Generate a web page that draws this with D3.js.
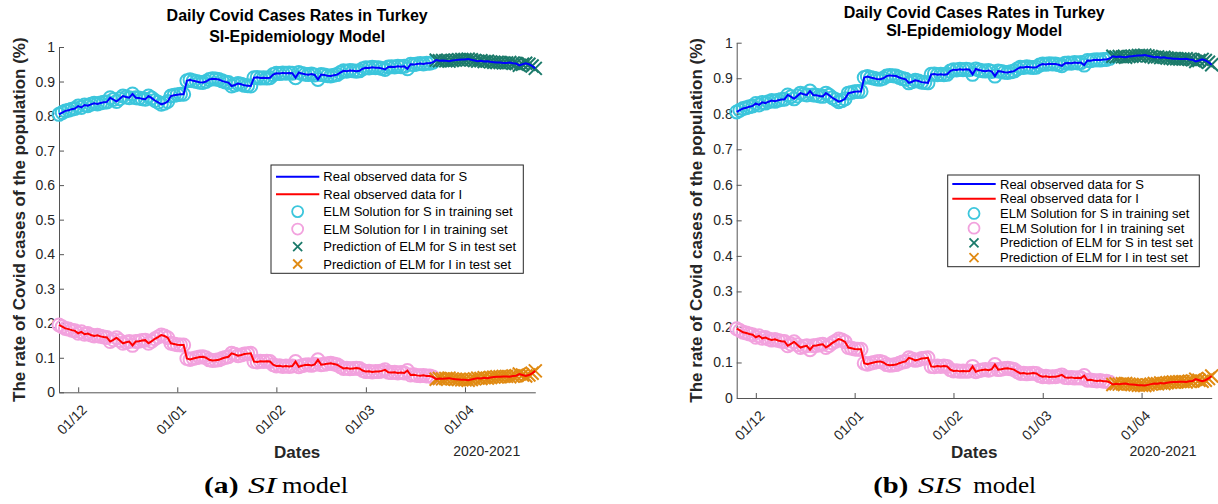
<!DOCTYPE html>
<html><head><meta charset="utf-8">
<script src="https://cdn.jsdelivr.net/npm/d3@7"></script>
<style>body{margin:0;background:#fff} svg{display:block} .sans{font-family:"Liberation Sans", Arial, Helvetica, sans-serif}</style>
</head><body>
<svg id="chart" width="1218" height="504"></svg>
<script>
// ---------------- DATA ----------------
const startDate = "2020-11-25";          // first observation (daily data)
const trainCount = 118;                  // points in the training set; the rest is the test set
const infected = [
  .195,.190,.185,.183,.180,.178,.171,.175,.168,.170,
  .166,.163,.165,.162,.160,.159,.147,.152,.158,.150,
  .142,.145,.147,.136,.147,.148,.150,.151,.142,.148,
  .155,.160,.166,.163,.158,.142,.140,.138,.137,.137,
  .098,.095,.098,.100,.102,.103,.100,.094,.092,.093,
  .094,.098,.101,.103,.113,.110,.106,.108,.111,.112,
  .113,.089,.088,.090,.089,.090,.089,.080,.076,.077,
  .075,.076,.075,.076,.089,.074,.077,.079,.080,.078,
  .081,.094,.080,.081,.083,.084,.082,.080,.074,.069,
  .070,.068,.069,.070,.069,.063,.060,.061,.059,.060,
  .060,.062,.065,.058,.057,.058,.056,.057,.056,.063,
  .050,.051,.049,.048,.049,.047,.047,.044,.038,.040,
  .039,.040,.041,.039,.038,.037,.036,.036,.035,.037,
  .039,.041,.040,.042,.041,.043,.044,.045,.045,.046,
  .046,.045,.047,.048,.053,.050,.047,.050,.055,.062
];
const susceptible = [
  .805,.810,.815,.817,.820,.822,.829,.825,.832,.830,
  .834,.837,.835,.838,.840,.841,.853,.848,.842,.850,
  .858,.855,.853,.864,.853,.852,.850,.849,.858,.852,
  .845,.840,.834,.837,.842,.858,.860,.862,.863,.863,
  .902,.905,.902,.900,.898,.897,.900,.906,.908,.907,
  .906,.902,.899,.897,.887,.890,.894,.892,.889,.888,
  .887,.911,.912,.910,.911,.910,.911,.920,.924,.923,
  .925,.924,.925,.924,.911,.926,.923,.921,.920,.922,
  .919,.906,.920,.919,.917,.916,.918,.920,.926,.931,
  .930,.932,.931,.930,.931,.937,.940,.939,.941,.940,
  .940,.938,.935,.942,.943,.942,.944,.943,.944,.937,
  .950,.949,.951,.952,.951,.953,.953,.956,.962,.960,
  .961,.960,.959,.961,.962,.963,.964,.964,.965,.963,
  .961,.959,.960,.958,.959,.957,.956,.955,.955,.954,
  .954,.955,.953,.952,.947,.950,.953,.950,.945,.938
];
const yTicks = [0,0.1,0.2,0.3,0.4,0.5,0.6,0.7,0.8,0.9,1];
const xTickDates = ["2020-12-01","2021-01-01","2021-02-01","2021-03-01","2021-04-01"];
const xDomain = ["2020-11-25","2021-04-23"];
const titleLines = ["Daily Covid Cases Rates in Turkey","SI-Epidemiology Model"];
const yLabel = "The rate of Covid cases of the population (%)";
const xLabel = "Dates";
const yearLabel = "2020-2021";
const legendLabels = [
  "Real observed data for S",
  "Real observed data for I",
  "ELM Solution for S in training set",
  "ELM Solution for I in training set",
  "Prediction of ELM for S in test set",
  "Prediction of ELM for I in test set"
];
const captionTags = ["(a)","(b)"];
const captionModels = ["SI","SIS"];

// ---------------- STYLE / LAYOUT ----------------
const C = {
  S:"#0000ff", I:"#ff0000", cS:"#3cc6dc", cI:"#f2a2de", xS:"#1b7a6a", xI:"#e08a12",
  axis:"#555", text:"#262626"
};
const panels = [
  {x0:59, x1:535.3, yT:47, yB:392.3, t1:20.7, t2:42.2, ylx:24.5,
   leg:{x:271, y:165, w:252.3, h:108.3, r0:176.7, dr:17.46, lx0:276, lx1:319.3, tx:323.3},
   datesY:457.7, yearX:486.7, capY:493,
   cap:[[204,34.5],[248,28.5],[282,66]]},
  {x0:736.7, x1:1211.7, yT:42.7, yB:398, t1:17.8, t2:35.8, ylx:702,
   leg:{x:947.7, y:175, w:251.6, h:91.7, r0:184, dr:14.73, lx0:952.3, lx1:995.7, tx:1000},
   datesY:457.7, yearX:1163, capY:493,
   cap:[[873.3,35],[918,43.5],[973.3,62.7]]}
];

const svg = d3.select("#chart");
const parse = d3.timeParse("%Y-%m-%d");
const t0 = parse(startDate);
const dates = infected.map((_, i) => d3.timeDay.offset(t0, i));
const fmt = d3.timeFormat("%d/%m");

function xMark(g, cx, cy, s, color, w){
  g.append("path").attr("d",`M${cx-s},${cy-s}L${cx+s},${cy+s}M${cx-s},${cy+s}L${cx+s},${cy-s}`)
    .attr("stroke",color).attr("stroke-width",w).attr("fill","none");
}

panels.forEach((P, pi) => {
  const g = svg.append("g").attr("class","sans");
  const x = d3.scaleTime().domain(xDomain.map(parse)).range([P.x0, P.x1]);
  const y = d3.scaleLinear().domain([0,1]).range([P.yB, P.yT]);

  // axes
  const ax = g.append("g").attr("transform",`translate(0,${P.yB})`)
    .call(d3.axisBottom(x).tickValues(xTickDates.map(parse)).tickFormat(fmt).tickSizeInner(-5).tickSizeOuter(0));
  ax.attr("font-family",null).attr("font-size",null);
  ax.select(".domain").attr("stroke",C.axis);
  ax.selectAll(".tick line").attr("stroke",C.axis);
  ax.selectAll(".tick text").attr("fill",C.text).attr("font-size",14)
    .attr("text-anchor","end").attr("y",0).attr("dy",".35em")
    .attr("transform","translate(5.7,15) rotate(-45)");

  const ay = g.append("g").attr("transform",`translate(${P.x0},0)`)
    .call(d3.axisLeft(y).tickValues(yTicks).tickFormat(d3.format("~g")).tickSizeInner(-5).tickSizeOuter(0).tickPadding(4));
  ay.attr("font-family",null).attr("font-size",null);
  ay.select(".domain").attr("stroke",C.axis);
  ay.selectAll(".tick line").attr("stroke",C.axis);
  ay.selectAll(".tick text").attr("fill",C.text).attr("font-size",14);

  // markers: training circles, test crosses
  const train = d3.range(0, trainCount), test = d3.range(trainCount, infected.length);
  const mk = g.append("g");
  train.forEach(i => {
    mk.append("circle").attr("cx",x(dates[i])).attr("cy",y(susceptible[i])).attr("r",6.5)
      .attr("fill","none").attr("stroke",C.cS).attr("stroke-width",2);
  });
  train.forEach(i => {
    mk.append("circle").attr("cx",x(dates[i])).attr("cy",y(infected[i])).attr("r",6.5)
      .attr("fill","none").attr("stroke",C.cI).attr("stroke-width",2);
  });
  test.forEach(i => xMark(mk, x(dates[i]), y(susceptible[i]), 6.5, C.xS, 2));
  test.forEach(i => xMark(mk, x(dates[i]), y(infected[i]), 6.5, C.xI, 2));

  // lines
  const line = arr => d3.line().x((d,i)=>x(dates[i])).y(d=>y(d))(arr);
  g.append("path").attr("d",line(susceptible)).attr("fill","none").attr("stroke",C.S).attr("stroke-width",2);
  g.append("path").attr("d",line(infected)).attr("fill","none").attr("stroke",C.I).attr("stroke-width",2);

  // title
  const cx = (P.x0 + P.x1)/2;
  g.append("text").attr("x",cx).attr("y",P.t1).attr("text-anchor","middle")
    .attr("font-weight","bold").attr("font-size",16).attr("fill","#000").text(titleLines[0]);
  g.append("text").attr("x",cx).attr("y",P.t2).attr("text-anchor","middle")
    .attr("font-weight","bold").attr("font-size",16).attr("fill","#000").text(titleLines[1]);

  // y label
  g.append("text").attr("transform",`translate(${P.ylx},${(P.yT+P.yB)/2}) rotate(-90)`)
    .attr("text-anchor","middle").attr("font-weight","bold").attr("font-size",17)
    .attr("fill",C.text).text(yLabel);
  // x label
  g.append("text").attr("x",cx).attr("y",P.datesY).attr("text-anchor","middle")
    .attr("font-weight","bold").attr("font-size",17).attr("fill",C.text).text(xLabel);
  g.append("text").attr("x",P.yearX).attr("y",P.datesY-1.5).attr("text-anchor","middle")
    .attr("font-size",14).attr("fill",C.text).text(yearLabel);

  // legend
  const L = P.leg;
  const lg = g.append("g");
  lg.append("rect").attr("x",L.x).attr("y",L.y).attr("width",L.w).attr("height",L.h)
    .attr("fill","#fff").attr("stroke","#262626").attr("stroke-width",1);
  const mx = (L.lx0 + L.lx1)/2;
  legendLabels.forEach((lab, k) => {
    const ry = L.r0 + k*L.dr;
    if (k < 2) {
      lg.append("line").attr("x1",L.lx0).attr("x2",L.lx1).attr("y1",ry).attr("y2",ry)
        .attr("stroke",k===0?C.S:C.I).attr("stroke-width",2);
    } else if (k < 4) {
      lg.append("circle").attr("cx",mx).attr("cy",ry).attr("r",5.5).attr("fill","none")
        .attr("stroke",k===2?C.cS:C.cI).attr("stroke-width",1.8);
    } else {
      xMark(lg, mx, ry, 4.5, k===4?C.xS:C.xI, 1.8);
    }
    lg.append("text").attr("x",L.tx).attr("y",ry).attr("dy",".35em")
      .attr("font-size",13).attr("fill","#000").text(lab);
  });

  // caption
  const cap = svg.append("text").attr("y",P.capY).attr("fill","#000")
    .attr("font-family","'Liberation Serif', 'DejaVu Serif', serif").attr("font-size",23);
  const parts = [captionTags[pi], captionModels[pi], "model"];
  parts.forEach((t, k) => {
    const ts = cap.append("tspan").attr("x",P.cap[k][0]).attr("textLength",P.cap[k][1])
      .attr("lengthAdjust","spacingAndGlyphs").text(t);
    if (k===0) ts.attr("font-weight","bold");
    if (k===1) ts.attr("font-style","italic");
  });
});
</script>
</body></html>
